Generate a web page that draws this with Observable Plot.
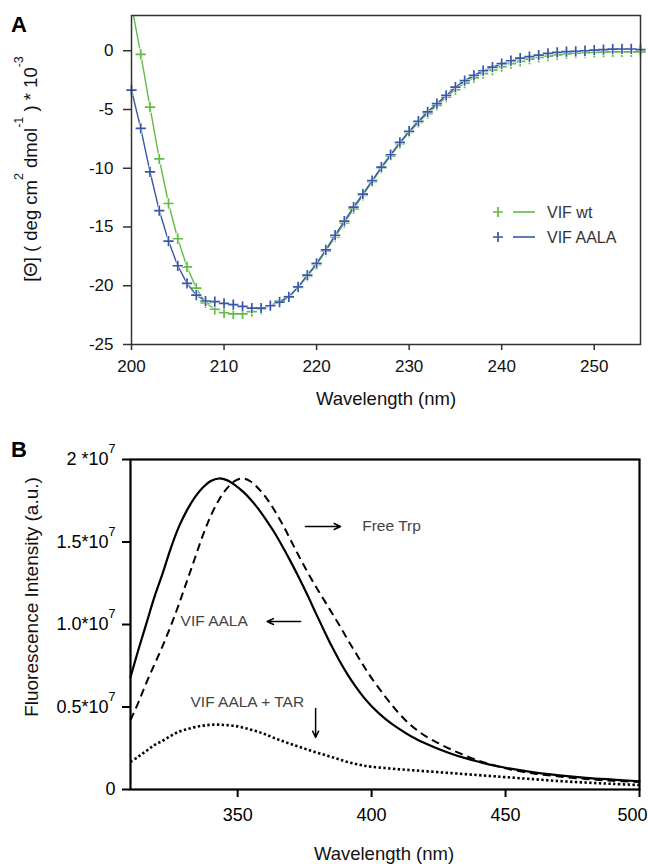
<!DOCTYPE html>
<html>
<head>
<meta charset="utf-8">
<script src="https://cdn.jsdelivr.net/npm/d3@7"></script>
<script src="https://cdn.jsdelivr.net/npm/@observablehq/plot@0.6"></script>
<style>
  body { margin: 0; background: #fff; }
  #wrap { position: relative; width: 648px; height: 864px; overflow: hidden; font-family: "Liberation Sans", Arial, sans-serif; }
  #wrap svg text { font-family: "Liberation Sans", Arial, sans-serif; }
  #A { position: absolute; left: 0; top: 0; }
  #B { position: absolute; left: 0; top: 420px; }
  #A [aria-label="x-axis tick"], #A [aria-label="y-axis tick"], #A .tick line { stroke-width: 1.5px; stroke: #333; }
  #B [aria-label="x-axis tick"], #B [aria-label="y-axis tick"], #B .tick line { stroke-width: 2px; stroke: #000; }
</style>
</head>
<body>
<div id="wrap"><div id="A"></div><div id="B"></div></div>
<script>
// ---------- Panel A data (CD spectra) ----------
const wavelengthA = [200,201,202,203,204,205,206,207,208,209,210,211,212,213,214,215,216,217,218,219,220,221,222,223,224,225,226,227,228,229,230,231,232,233,234,235,236,237,238,239,240,241,242,243,244,245,246,247,248,249,250,251,252,253,254,255];
const vifWt = [3.9,-0.3,-4.8,-9.2,-13.0,-16.0,-18.4,-20.2,-21.45,-22.0,-22.3,-22.4,-22.4,-22.2,-22.0,-21.7,-21.3,-20.9,-20.15,-19.2,-18.2,-17.05,-15.85,-14.65,-13.45,-12.3,-11.15,-10.0,-8.95,-7.9,-6.95,-6.1,-5.35,-4.65,-3.95,-3.3,-2.75,-2.3,-1.95,-1.65,-1.35,-1.1,-0.9,-0.72,-0.57,-0.45,-0.35,-0.27,-0.21,-0.16,-0.13,-0.11,-0.1,-0.1,-0.1,-0.1];
const vifAala = [-3.35,-6.6,-10.3,-13.6,-16.2,-18.3,-19.8,-20.8,-21.3,-21.35,-21.5,-21.6,-21.75,-21.9,-21.9,-21.7,-21.4,-20.95,-20.1,-19.1,-18.1,-16.95,-15.7,-14.5,-13.3,-12.2,-11.05,-9.9,-8.85,-7.8,-6.85,-6.0,-5.2,-4.5,-3.8,-3.1,-2.55,-2.1,-1.7,-1.4,-1.1,-0.85,-0.62,-0.5,-0.37,-0.23,-0.14,-0.08,-0.05,0.0,0.06,0.1,0.14,0.15,0.15,0.1];
const seriesNamesA = ["VIF wt", "VIF AALA"];
const xTicksA = [200,210,220,230,240,250];
const yTicksA = [-25,-20,-15,-10,-5,0];

// ---------- Panel B data (fluorescence) ----------
const wavelengthB = [310,313,316,319,322,325,328,331,334,337,340,343,346,349,352,355,358,361,364,367,370,373,376,379,382,385,388,391,394,397,400,405,410,415,420,425,430,435,440,445,450,460,470,480,490,500];
const vifAalaFl = [6.8,8.5,10.1,11.7,13.1,14.6,15.9,16.9,17.7,18.3,18.7,18.85,18.75,18.45,18.05,17.55,16.95,16.25,15.5,14.65,13.75,12.8,11.8,10.75,9.72,8.72,7.8,6.98,6.25,5.6,5.05,4.3,3.7,3.2,2.8,2.45,2.15,1.9,1.68,1.48,1.32,1.05,0.86,0.71,0.6,0.5];
const freeTrpFl = [4.2,5.3,6.5,7.6,8.7,9.9,11.2,12.6,14.0,15.4,16.6,17.55,18.25,18.7,18.85,18.65,18.2,17.6,16.85,16.0,15.05,14.1,13.2,12.35,11.55,10.75,9.95,9.1,8.3,7.5,6.75,5.65,4.65,3.85,3.25,2.8,2.4,2.05,1.75,1.5,1.28,0.98,0.79,0.64,0.53,0.45];
const vifAalaTarFl = [1.67,2.0,2.35,2.7,2.95,3.25,3.5,3.65,3.78,3.87,3.92,3.93,3.9,3.85,3.75,3.62,3.48,3.3,3.1,2.92,2.75,2.58,2.42,2.26,2.12,1.97,1.82,1.67,1.55,1.45,1.38,1.3,1.23,1.17,1.11,1.05,0.99,0.93,0.87,0.81,0.75,0.63,0.51,0.42,0.34,0.27];
const unitB = 1e6; // values above are in units of 10^6
const xTicksB = [350,400,450,500];
const yTicksB = [0,5e6,1e7,1.5e7,2e7];
const yTickLabelsB = ["0","0.5*10","1.0*10","1.5*10","2 *10"];
const noteLabels = ["Free Trp","VIF AALA","VIF AALA + TAR"];
const noteX = [396.5,328.7,332.4];
const noteY = [15.94e6,10.18e6,5.29e6];
const arrowX1 = [375.3,373.5,379.1];
const arrowX2 = [388.4,361.0,379.1];
const arrowY1 = [15.94e6,10.18e6,4.91e6];
const arrowY2 = [15.94e6,10.18e6,3.15e6];

const GREEN = "#62bb45";
const BLUE = "#3957a8";
const FONT = "'Liberation Sans', Arial, sans-serif";

// ---------- Panel A ----------
const wtRows = wavelengthA.map((w, i) => ({w, v: vifWt[i], s: seriesNamesA[0]}));
const aalaRows = wavelengthA.map((w, i) => ({w, v: vifAala[i], s: seriesNamesA[1]}));
const yMaxA = 3;
const wtDots = wtRows.filter(d => d.v <= yMaxA);

const plotA = Plot.plot({
  width: 648, height: 420,
  marginLeft: 131, marginRight: 8, marginTop: 15, marginBottom: 76,
  style: {fontFamily: FONT, fontSize: "17px", color: "#111", background: "white"},
  x: {domain: [200, 255], ticks: xTicksA, tickSize: 6, tickPadding: 9, tickFormat: d => String(d), label: null},
  y: {domain: [-25, yMaxA], ticks: yTicksA, tickSize: 8, tickPadding: 10, tickFormat: d => String(d), label: null},
  marks: [
    Plot.line(wtRows, {x: "w", y: "v", stroke: GREEN, strokeWidth: 1.4, clip: true}),
    Plot.dot(wtDots, {x: "w", y: "v", symbol: "plus", r: 3.9, stroke: "white", strokeWidth: 3}),
    Plot.dot(wtDots, {x: "w", y: "v", symbol: "plus", r: 3.4, stroke: GREEN, strokeWidth: 1.7}),
    Plot.line(aalaRows, {x: "w", y: "v", stroke: BLUE, strokeWidth: 1.4, clip: true}),
    Plot.dot(aalaRows, {x: "w", y: "v", symbol: "plus", r: 3.9, stroke: "white", strokeWidth: 2.6}),
    Plot.dot(aalaRows, {x: "w", y: "v", symbol: "plus", r: 3.4, stroke: BLUE, strokeWidth: 1.7}),
    Plot.frame({stroke: "#333", strokeWidth: 1.5})
  ]
});
document.getElementById("A").appendChild(plotA);
const svgA = d3.select(plotA);

// panel letter
svgA.append("text").attr("x", 11).attr("y", 32).attr("text-anchor", "start").style("font-size", "22px").style("font-weight", "bold").attr("fill", "#000").text("A");
// x label
svgA.append("text").attr("x", 386).attr("y", 405).attr("text-anchor", "middle").style("font-size", "18.5px").attr("fill", "#111").text("Wavelength (nm)");
// y label with superscripts
{
  const t = svgA.append("text").attr("transform", "translate(37,169) rotate(-90)").attr("text-anchor", "middle").style("font-size", "18.5px").attr("fill", "#111");
  t.append("tspan").text("[\u0398] ( deg cm");
  t.append("tspan").attr("dy", -14).style("font-size", "12.5px").text("2");
  t.append("tspan").attr("dy", 14).text(" dmol");
  t.append("tspan").attr("dy", -14).style("font-size", "12.5px").text("-1");
  t.append("tspan").attr("dy", 14).text(" ) * 10");
  t.append("tspan").attr("dy", -14).style("font-size", "12.5px").text("-3");
}
// legend
[[GREEN, seriesNamesA[0], 212], [BLUE, seriesNamesA[1], 237]].forEach(([c, name, y]) => {
  svgA.append("path").attr("d", `M${493},${y}h10M${498},${y - 5}v10`).attr("stroke", c).attr("stroke-width", 1.7).attr("fill", "none");
  svgA.append("line").attr("x1", 513).attr("x2", 535).attr("y1", y).attr("y2", y).attr("stroke", c).attr("stroke-width", 1.6);
  svgA.append("text").attr("x", 547).attr("y", y + 6).attr("text-anchor", "start").style("font-size", "16px").attr("fill", "#333").text(name);
});

// ---------- Panel B ----------
const solidRows = wavelengthB.map((w, i) => ({w, v: vifAalaFl[i] * unitB}));
const dashRows = wavelengthB.map((w, i) => ({w, v: freeTrpFl[i] * unitB}));
const dotRows = wavelengthB.map((w, i) => ({w, v: vifAalaTarFl[i] * unitB}));
const notes = noteLabels.map((label, i) => ({label, x: noteX[i], y: noteY[i]}));
const arrows = arrowX1.map((x1, i) => ({x1, x2: arrowX2[i], y1: arrowY1[i], y2: arrowY2[i]}));
const tickLabelMap = new Map(yTicksB.map((t, i) => [t, yTickLabelsB[i]]));

const plotB = Plot.plot({
  width: 648, height: 444,
  marginLeft: 130, marginRight: 9, marginTop: 39, marginBottom: 75,
  style: {fontFamily: FONT, fontSize: "18px", color: "#000", background: "white"},
  x: {domain: [310, 500], ticks: xTicksB, tickSize: 8, tickPadding: 11, tickFormat: d => String(d), label: null},
  y: {domain: [0, 2e7], ticks: yTicksB, tickSize: 8, tickPadding: 7, tickFormat: d => tickLabelMap.get(d), label: null},
  marks: [
    Plot.line(dotRows, {x: "w", y: "v", stroke: "#000", strokeWidth: 2.6, strokeDasharray: "2.4,2.4", strokeLinecap: "butt", curve: "catmull-rom"}),
    Plot.line(dashRows, {x: "w", y: "v", stroke: "#000", strokeWidth: 2, strokeDasharray: "8,5", strokeLinecap: "butt", curve: "catmull-rom"}),
    Plot.line(solidRows, {x: "w", y: "v", stroke: "#000", strokeWidth: 2.2, curve: "catmull-rom"}),
    Plot.text(notes, {x: "x", y: "y", text: "label", textAnchor: "start", fontSize: 15.5, fill: "#444"}),
    Plot.arrow(arrows, {x1: "x1", y1: "y1", x2: "x2", y2: "y2", stroke: "#000", strokeWidth: 1.5, headLength: 7, headAngle: 50}),
    Plot.frame({stroke: "#000", strokeWidth: 2.2})
  ]
});
document.getElementById("B").appendChild(plotB);
const svgB = d3.select(plotB);

// superscript exponent on y tick labels; keep the last x tick label inside the page
svgB.selectAll("text").each(function () {
  const s = this.textContent;
  if (yTickLabelsB.includes(s) && s !== "0") {
    d3.select(this).append("tspan").attr("dy", -12).style("font-size", "12.5px").text("7");
  }
  if (s === String(xTicksB[xTicksB.length - 1])) {
    d3.select(this).attr("dx", -7);
  }
});
svgB.append("text").attr("x", 11).attr("y", 37).attr("text-anchor", "start").style("font-size", "22px").style("font-weight", "bold").attr("fill", "#000").text("B");
svgB.append("text").attr("x", 384).attr("y", 440).attr("text-anchor", "middle").style("font-size", "18.5px").attr("fill", "#111").text("Wavelength (nm)");
svgB.append("text").attr("transform", "translate(38,177) rotate(-90)").attr("text-anchor", "middle").style("font-size", "19px").attr("fill", "#111").text("Fluorescence Intensity (a.u.)");
</script>
</body>
</html>
